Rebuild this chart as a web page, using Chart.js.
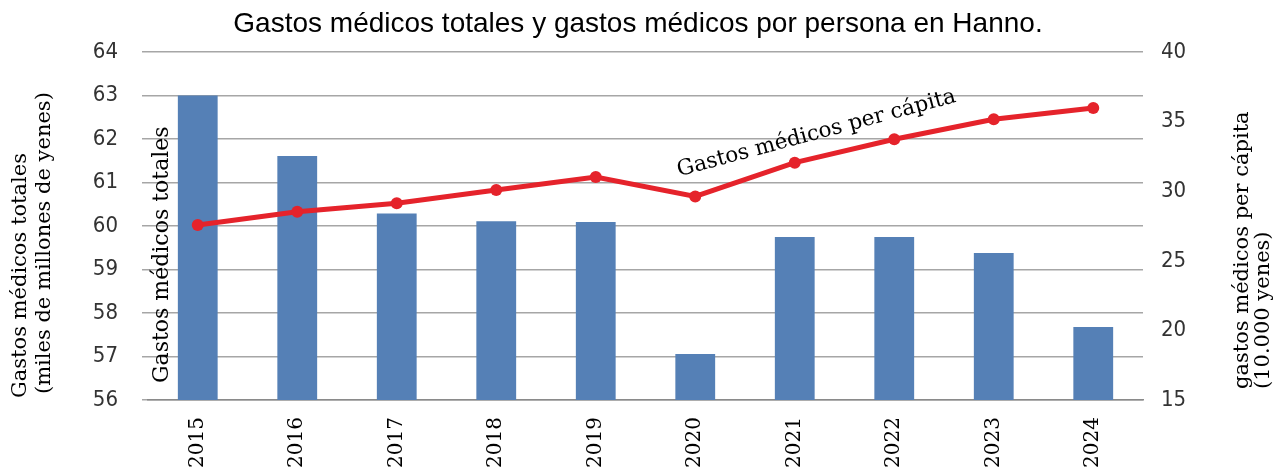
<!DOCTYPE html>
<html lang="es">
<head>
  <meta charset="UTF-8" />
  <title>Gastos médicos Hanno</title>
  <script src="https://cdn.jsdelivr.net/npm/chart.js"></script>
  <style>
    html, body { margin: 0; padding: 0; background: #fff; }
    #wrap { width: 1287px; height: 470px; }
  </style>
</head>
<body>
  <div id="wrap"><canvas id="chart" width="1287" height="470"></canvas></div>

  <script>
    // data
    const years = ['2015', '2016', '2017', '2018', '2019', '2020', '2021', '2022', '2023', '2024'];
    const totalCost = [63.0, 61.61, 60.29, 60.11, 60.09, 57.06, 59.75, 59.75, 59.38, 57.68];
    const perCapita = [27.57, 28.53, 29.13, 30.09, 31.02, 29.62, 32.05, 33.73, 35.17, 35.98];

    const leftTicks = { min: 56, max: 64, step: 1 };
    const rightTicks = { min: 15, max: 40, step: 5 };

    const titleText = 'Gastos médicos totales y gastos médicos por persona en Hanno.';
    const leftTitle = ['Gastos médicos totales', '(miles de millones de yenes)'];
    const rightTitle = ['gastos médicos per cápita', '(10.000 yenes)'];
    const barNote = 'Gastos médicos totales';
    const lineNote = 'Gastos médicos per cápita';

    const SERIF = "'DejaVu Serif', 'Liberation Serif', serif";
    const NARROW = "'Liberation Sans Narrow', 'DejaVu Sans Condensed', sans-serif";

    // titles and notes drawn on top
    const textPlugin = {
      id: 'texts',
      afterDraw(chart) {
        const ctx = chart.ctx;
        ctx.save();
        ctx.fillStyle = '#000';

        ctx.font = "28px 'Liberation Sans', Arial, sans-serif";
        ctx.textAlign = 'center';
        ctx.textBaseline = 'alphabetic';
        ctx.fillText(titleText, 638, 32);

        function vertical(text, x, y, size) {
          ctx.save();
          ctx.translate(x, y);
          ctx.rotate(-Math.PI / 2);
          ctx.font = size + 'px ' + SERIF;
          ctx.textAlign = 'left';
          ctx.textBaseline = 'middle';
          ctx.fillText(text, 0, 0);
          ctx.restore();
        }

        vertical(leftTitle[0], 21, 398, 21);
        vertical(leftTitle[1], 45, 394, 21);
        vertical(rightTitle[0], 1243, 389, 21);
        vertical(rightTitle[1], 1264, 389, 21);
        vertical(barNote, 162, 383, 22);

        ctx.save();
        ctx.translate(818, 139);
        ctx.rotate(-15 * Math.PI / 180);
        ctx.font = '21.5px ' + SERIF;
        ctx.textAlign = 'center';
        ctx.textBaseline = 'alphabetic';
        ctx.fillText(lineNote, 0, 0);
        ctx.restore();

        ctx.restore();
      }
    };

    new Chart(document.getElementById('chart'), {
      data: {
        labels: years,
        datasets: [
          {
            type: 'line',
            data: perCapita,
            yAxisID: 'y1',
            borderColor: '#e5232b',
            backgroundColor: '#e5232b',
            borderWidth: 5,
            pointRadius: 6,
            pointBackgroundColor: '#e5232b',
            pointBorderWidth: 0,
            tension: 0,
            order: 0
          },
          {
            type: 'bar',
            data: totalCost,
            yAxisID: 'y',
            backgroundColor: '#5580b6',
            categoryPercentage: 1,
            barPercentage: 0.4,
            order: 1
          }
        ]
      },
      options: {
        responsive: false,
        animation: false,
        layout: { padding: { top: 52, left: 0, right: 0, bottom: 0 } },
        plugins: {
          legend: { display: false },
          tooltip: { enabled: false },
          title: { display: false }
        },
        scales: {
          x: {
            grid: { display: false },
            border: { display: true, color: '#8a8a8a', width: 1.5 },
            ticks: {
              color: '#000',
              font: { family: SERIF, size: 20 },
              minRotation: 90,
              maxRotation: 90,
              padding: 9
            },
            afterFit(s) { s.height = 70; }
          },
          y: {
            position: 'left',
            min: leftTicks.min,
            max: leftTicks.max,
            grid: { color: '#a6a6a6', lineWidth: 1.5, tickLength: 6 },
            border: { display: false },
            ticks: {
              stepSize: leftTicks.step,
              color: '#333',
              font: { family: NARROW, size: 22 },
              padding: 24
            },
            afterFit(s) { s.width = 148; }
          },
          y1: {
            position: 'right',
            min: rightTicks.min,
            max: rightTicks.max,
            grid: { display: false },
            border: { display: false },
            ticks: {
              stepSize: rightTicks.step,
              color: '#333',
              font: { family: NARROW, size: 22 },
              padding: 10
            },
            afterFit(s) { s.width = 144; }
          }
        }
      },
      plugins: [textPlugin]
    });
  </script>
</body>
</html>
